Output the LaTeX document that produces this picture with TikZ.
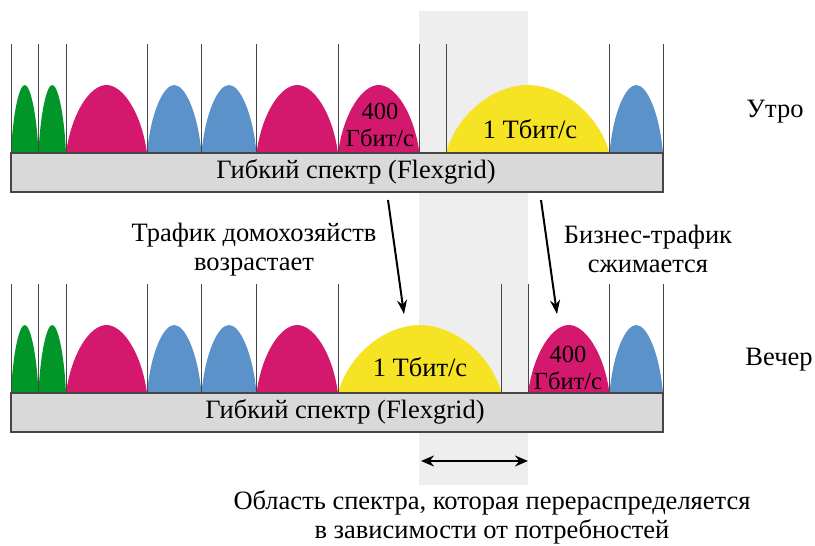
\documentclass[tikz,border=0pt]{standalone}
\usepackage{fontspec}
\setmainfont{Liberation Serif}
\usetikzlibrary{arrows.meta}
\definecolor{cgreen}{RGB}{0,150,40}
\definecolor{cmag}{RGB}{212,24,110}
\definecolor{cblue}{RGB}{91,146,201}
\definecolor{cyel}{RGB}{245,227,36}
\definecolor{cband}{RGB}{238,238,238}
\definecolor{cbar}{RGB}{217,217,217}
\definecolor{cline}{RGB}{70,70,70}
\newcommand\spechump[5]{%
  \pgfmathsetmacro\shw{#2-#1}\pgfmathsetmacro\shc{(#1+#2)/2}\pgfmathsetmacro\shh{#3-#4}%
  \fill[#5] (#1,#3) .. controls ({#1+0.07*\shw},{#4+0.4*\shh}) and ({\shc-0.2*\shw},#4) .. (\shc,#4)
    .. controls ({\shc+0.2*\shw},#4) and ({#2-0.07*\shw},{#4+0.4*\shh}) .. (#2,#3) -- cycle;}
\tikzset{
  lbl/.style={font=\fontsize{26.5}{29}\selectfont, inner sep=0pt, align=center},
  smalllbl/.style={font=\fontsize{24.5}{27}\selectfont, inner sep=0pt, align=center},
  divider/.style={draw=cline, line width=1pt},
  barbox/.style={draw=cline, fill=cbar, line width=1.2pt},
  bigarrow/.style={line width=2pt, -{Stealth[length=14pt,width=10pt]}},
}
\begin{document}
\begin{tikzpicture}[x=1pt,y=-1pt]
\useasboundingbox (0,0) rectangle (815,546);
\fill[cband] (419,11) rectangle (528,485);
% ---------- morning ----------
\foreach \a/\b/\c in {11/38.5/cgreen, 38.5/66/cgreen, 66/147/cmag, 147/201.5/cblue, 201.5/256.5/cblue, 256.5/338/cmag, 338/419.5/cmag, 446/609.5/cyel, 609.5/663/cblue}
  {\spechump{\a}{\b}{153}{85}{\c}}
\foreach \x in {11,38.5,66,147,201.5,256.5,338,419.5,446,609.5,663}
  \draw[divider] (\x,44) -- (\x,153);
\draw[barbox] (11,153) rectangle (663,192);
\node[lbl] (bar1) at (356,172) {Гибкий спектр (Flexgrid)};
\node[smalllbl] (m400) at (380,125) {400\\Гбит/с};
\node[lbl] (m1t) at (530,129) {1 Тбит/с};
\node[lbl] (morning) at (775,112) {Утро};
% ---------- evening ----------
\foreach \a/\b/\c in {11/38.5/cgreen, 38.5/66/cgreen, 66/147/cmag, 147/201.5/cblue, 201.5/256.5/cblue, 256.5/338/cmag, 338/501.5/cyel, 528/609.5/cmag, 609.5/663/cblue}
  {\spechump{\a}{\b}{393}{325}{\c}}
\foreach \x in {11,38.5,66,147,201.5,256.5,338,501.5,528,609.5,663}
  \draw[divider] (\x,284) -- (\x,393);
\draw[barbox] (11,393) rectangle (663,432);
\node[lbl] (bar2) at (345,412) {Гибкий спектр (Flexgrid)};
\node[lbl] (e1t) at (420,367) {1 Тбит/с};
\node[smalllbl] (e400) at (568,368) {400\\Гбит/с};
\node[lbl] (evening) at (779,360) {Вечер};
% ---------- annotations ----------
\node[lbl] (home) at (254,250) {Трафик домохозяйств\\возрастает};
\node[lbl] (biz) at (648,249) {Бизнес-трафик\\сжимается};
\coordinate (a1s) at (388,200); \coordinate (a1e) at (404,314);
\coordinate (a2s) at (541,200); \coordinate (a2e) at (557,314);
\draw[bigarrow] (a1s) -- (a1e);
\draw[bigarrow] (a2s) -- (a2e);
\coordinate (d1) at (421,461); \coordinate (d2) at (528,461);
\draw[line width=2.4pt, {Stealth[length=13pt,width=11pt]}-{Stealth[length=13pt,width=11pt]}] (d1) -- (d2);
\node[lbl] (region) at (492,517) {Область спектра, которая перераспределяется\\в зависимости от потребностей};
\end{tikzpicture}
\end{document}
